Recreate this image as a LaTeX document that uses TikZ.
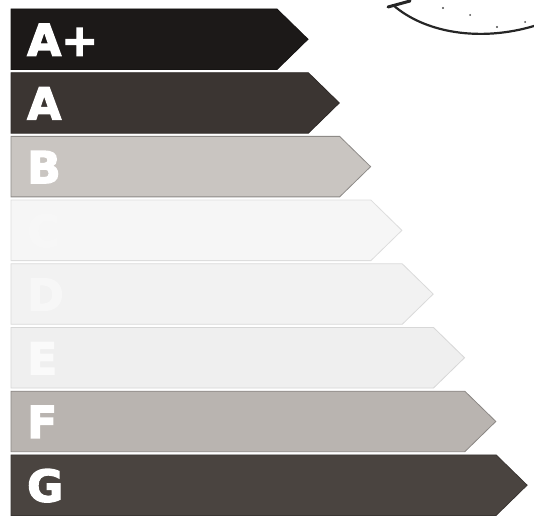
\documentclass[tikz,border=0pt]{standalone}
\usepackage{fontspec}
\setmainfont{DejaVu Sans}
\newfontfamily\heavyfont[FakeBold=3]{DejaVu Sans Bold}
\definecolor{fAp}{HTML}{1C1918}
\definecolor{fA}{HTML}{3B3532}
\definecolor{fB}{HTML}{C9C5C1}
\definecolor{fC}{HTML}{F6F6F6}
\definecolor{fD}{HTML}{F2F2F2}
\definecolor{fE}{HTML}{EFEFEF}
\definecolor{fF}{HTML}{B9B4B0}
\definecolor{fG}{HTML}{4A4440}
\tikzset{
  bar/.style={line width=0.8pt, line join=miter},
  lbl/.style={inner sep=0pt, anchor=base west, font=\heavyfont\fontsize{44}{44}\selectfont},
  arcline/.style={line width=2.2pt, draw=black!85, line cap=round}
}
\begin{document}
\begin{tikzpicture}[x=1pt,y=-1pt]
\useasboundingbox (0,0) rectangle (534,518);
\fill[white] (0,0) rectangle (534,518);
\foreach \i/\lab/\fc/\dc/\tc in {
  0/A+/fAp/fAp!80!black/white,
  1/A/fA/fA!80!black/white,
  2/B/fB/fB!70!black/white,
  3/C/fC/fC!90!black/white!97!black,
  4/D/fD/fD!90!black/white!97!black,
  5/E/fE/fE!90!black/white!98!black,
  6/F/fF/fF!75!black/white,
  7/G/fG/fG!80!black/white}{
  \pgfmathsetmacro{\top}{9+63.7*\i}
  \pgfmathsetmacro{\bot}{\top+60.5}
  \pgfmathsetmacro{\mid}{\top+30.25}
  \pgfmathsetmacro{\re}{277+31.3*\i}
  \pgfmathsetmacro{\tip}{\re+31}
  \fill[fill=\fc] (11,\top) -- (\re,\top) -- (\tip,\mid) -- (\re,\bot) -- (11,\bot) -- cycle;
  \draw[bar, draw=\dc] (11,\top) -- (\re,\top) -- (\tip,\mid) -- (\re,\bot) -- (11,\bot) -- cycle;
  \node[lbl, text=\tc] (L\i) at (27,\mid+16.5) {\lab};
}
% scribbled circle fragment at top right
\draw[arcline] (393,5) .. controls (425,33) and (480,42) .. (534,26);
\draw[line width=3pt, black!85, line cap=round] (388,7) -- (410,1);
\fill[black!70] (443,8) circle (1.1pt) (470,15) circle (1pt) (497,27) circle (1.2pt) (525,22) circle (1pt);
\end{tikzpicture}
\end{document}
